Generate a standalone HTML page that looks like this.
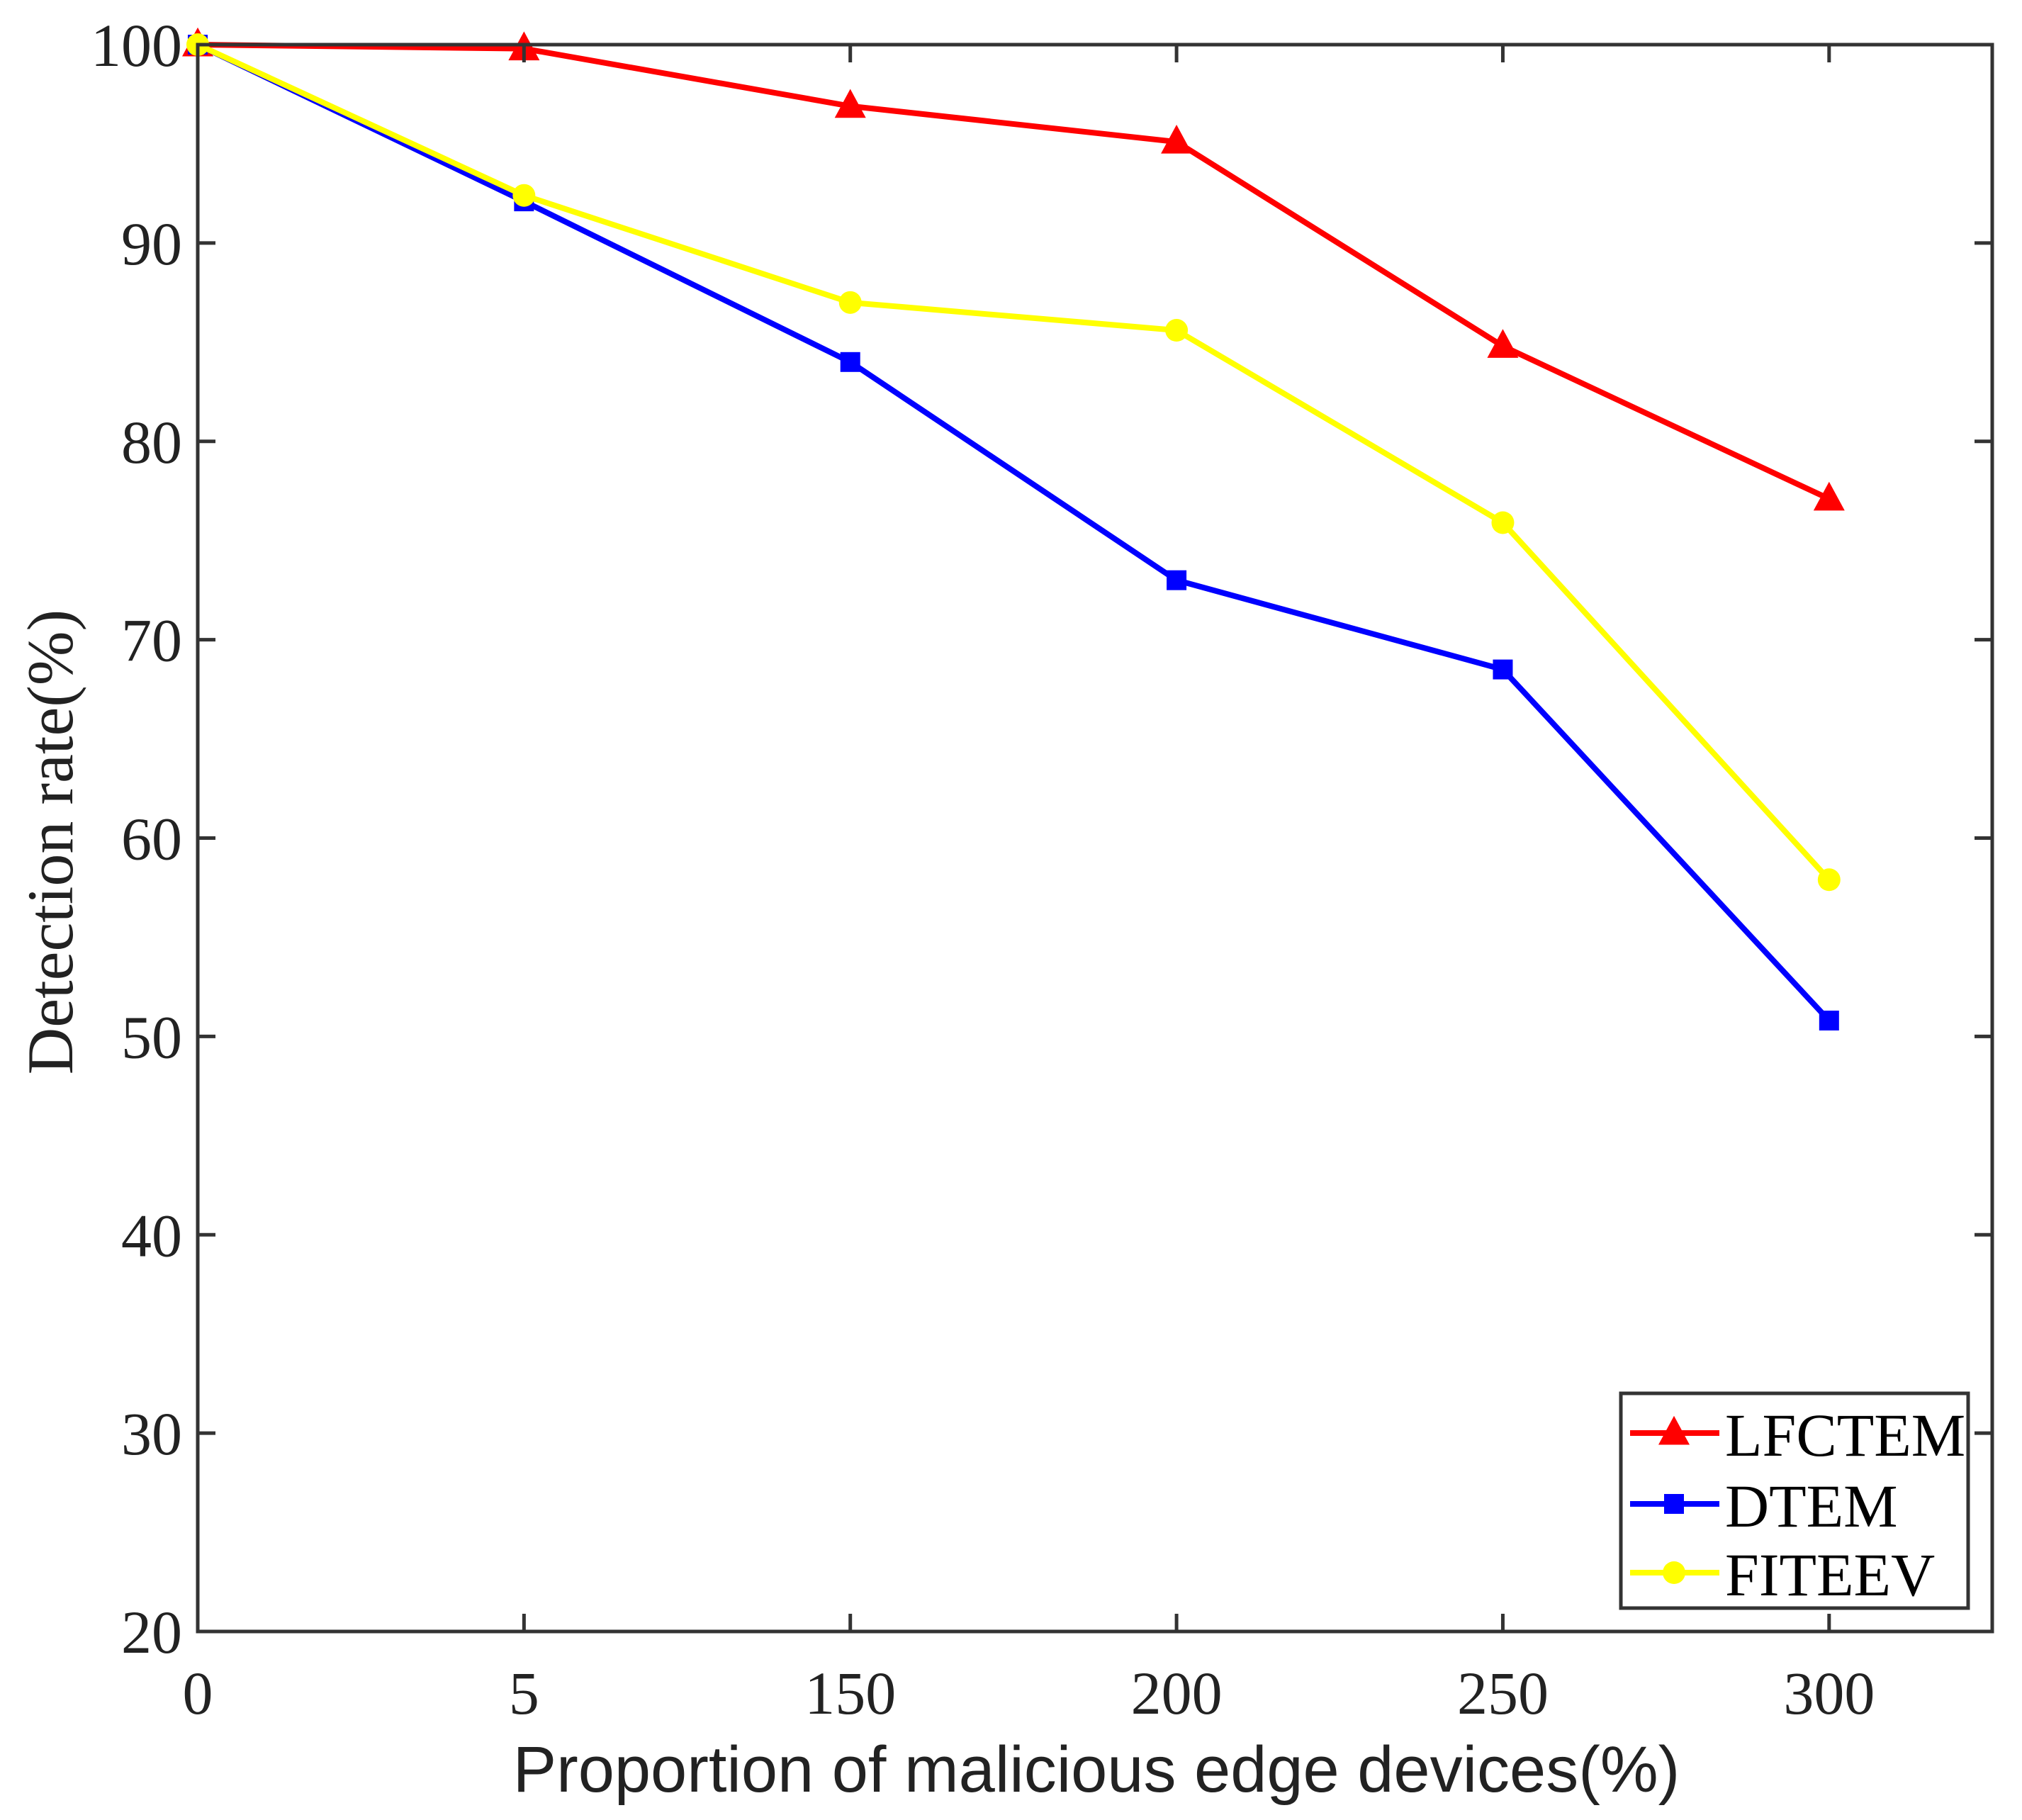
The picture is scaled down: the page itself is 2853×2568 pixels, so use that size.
<!DOCTYPE html>
<html><head><meta charset="utf-8"><style>
html,body{margin:0;padding:0;background:#fff}
svg{display:block}
</style></head><body>
<svg id="chart" width="2853" height="2568" viewBox="0 0 2853 2568" xmlns="http://www.w3.org/2000/svg">
<g id="grid"></g>
<g id="series"></g>
<g id="frame"></g>
<g id="labels"></g>
<g id="legend"></g>
</svg>
<script>
const categories = ["0","5","150","200","250","300"];
const yTicks = [20,30,40,50,60,70,80,90,100];
const lfctem = [100, 99.8, 96.9, 95.1, 84.8, 77.1];
const dtem = [100, 92.1, 84.0, 73.0, 68.5, 50.8];
const fiteev = [100, 92.4, 87.0, 85.6, 75.9, 57.9];
const seriesNames = ["LFCTEM","DTEM","FITEEV"];

const NS="http://www.w3.org/2000/svg";
const L=279,R=2811,T=63,B=2302;
const yMin=20,yMax=100;
function xs(i){return L+i*(R-L)/5.5;}
function ys(v){return B-(v-yMin)/(yMax-yMin)*(B-T);}
function mk(tag,attrs,parent){const e=document.createElementNS(NS,tag);for(const k in attrs)e.setAttribute(k,attrs[k]);parent.appendChild(e);return e;}
const frame=document.getElementById('frame'),labels=document.getElementById('labels'),sg=document.getElementById('series'),lg=document.getElementById('legend');

let box=mk('rect',{x:L,y:T,width:R-L,height:B-T,fill:'none',stroke:'#333',"stroke-width":5},frame);



yTicks.forEach(v=>{
  const y=ys(v);
  let t1=mk('line',{x1:L,x2:L+25,y1:y,y2:y,stroke:'#333',"stroke-width":5},frame);
  
  
  let t2=mk('line',{x1:R,x2:R-25,y1:y,y2:y,stroke:'#333',"stroke-width":5},frame);
  
  
  let tx=mk('text',{x:257,y:y+30,"text-anchor":"end","font-family":"Liberation Serif, serif","font-size":86,fill:'#222'},labels);
  tx.textContent=v;
  
  
});
categories.forEach((c,i)=>{
  const x=xs(i);
  let t1=mk('line',{x1:x,x2:x,y1:B,y2:B-25,stroke:'#333',"stroke-width":5},frame);
  
  
  let t2=mk('line',{x1:x,x2:x,y1:T,y2:T+25,stroke:'#333',"stroke-width":5},frame);
  
  
  let tx=mk('text',{x:x,y:2418,"text-anchor":"middle","font-family":"Liberation Serif, serif","font-size":86,fill:'#222'},labels);
  tx.textContent=c;
  
  
});

let xt=mk('text',{x:1547,y:2528,"text-anchor":"middle","font-family":"Liberation Sans, sans-serif","font-size":92,fill:'#222'},labels);
xt.textContent="Proportion of malicious edge devices(%)";


let yt=mk('text',{x:0,y:0,"text-anchor":"middle","font-family":"Liberation Serif, serif","font-size":92,fill:'#222',transform:"translate(102,1188) rotate(-90)"},labels);
yt.textContent="Detection rate(%)";



function marker(type,x,y,color,parent){
  let m;
  if(type==='tri'){const s=22;m=mk('polygon',{points:`${x},${y-s*1.1} ${x-s},${y+s*0.75} ${x+s},${y+s*0.75}`,fill:color},parent);}
  else if(type==='sq'){m=mk('rect',{x:x-14,y:y-14,width:28,height:28,fill:color},parent);}
  else {m=mk('circle',{cx:x,cy:y,r:16,fill:color},parent);}
  return m;
}
const defs=[[lfctem,'#ff0000','tri','lfctem'],[dtem,'#0000ff','sq','dtem'],[fiteev,'#ffff00','circ','fiteev']];
defs.forEach(([vals,color,type,nm])=>{
  const g=mk('g',{},sg);
  
  
  const pts=vals.map((v,i)=>xs(i)+','+ys(v)).join(' ');
  let pl=mk('polyline',{points:pts,fill:'none',stroke:color,"stroke-width":8,"stroke-linejoin":"round"},g);
  
  
  vals.forEach((v,i)=>{
    let m=marker(type,xs(i),ys(v),color,g);
    
    
  });
});

let lb=mk('rect',{x:2287,y:1966,width:490,height:303,fill:'#fff',stroke:'#333',"stroke-width":5},lg);


const rowY=[2022,2122,2219];
defs.forEach(([vals,color,type,nm],k)=>{
  const g=mk('g',{},lg);
  
  
  const y=rowY[k];
  mk('line',{x1:2300,x2:2426,y1:y,y2:y,stroke:color,"stroke-width":8},g);
  marker(type,2362,y,color,g);
  let tx=mk('text',{x:2434,y:y+32,"font-family":"Liberation Serif, serif","font-size":86,fill:'#000'},g);
  tx.textContent=seriesNames[k];
  
  
});
</script>
</body></html>
